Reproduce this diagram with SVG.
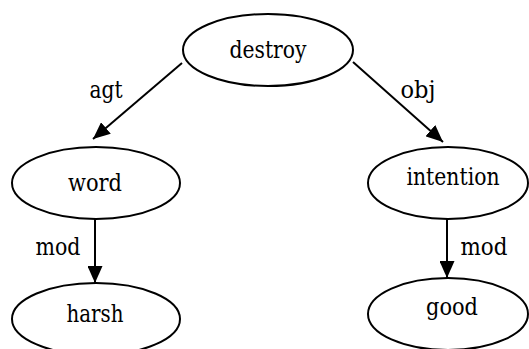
<svg xmlns="http://www.w3.org/2000/svg" width="529" height="349" viewBox="0 0 529 349">
<style>
.node ellipse{fill:#fff;stroke:#000;stroke-width:2}
.edge line{stroke:#000;stroke-width:2}
text{font-family:'DejaVu Serif',serif;font-size:25px;text-anchor:middle;fill:#000}
</style>
<defs>
<marker id="ah" markerWidth="17" markerHeight="15" refX="17" refY="7.5" orient="auto" markerUnits="userSpaceOnUse">
<path d="M0,0 L17,7.5 L0,15 z" fill="#000"/>
</marker>
</defs>
<rect width="529" height="349" fill="#fff"/>
<g id="connectors" class="edge">
<line x1="182" y1="63" x2="93" y2="139" marker-end="url(#ah)"/>
<line x1="353" y1="62" x2="443" y2="142" marker-end="url(#ah)"/>
<line x1="95" y1="219" x2="95" y2="283" marker-end="url(#ah)"/>
<line x1="447" y1="219" x2="447" y2="278" marker-end="url(#ah)"/>
<text x="106" y="98" textLength="33" lengthAdjust="spacingAndGlyphs">agt</text>
<text x="418" y="98" textLength="35" lengthAdjust="spacingAndGlyphs">obj</text>
<text x="58" y="255" textLength="45" lengthAdjust="spacingAndGlyphs">mod</text>
<text x="484" y="255" textLength="47" lengthAdjust="spacingAndGlyphs">mod</text>
</g>
<g id="destroy" class="node"><ellipse cx="268" cy="50" rx="85" ry="36"/><text x="268" y="58" textLength="77" lengthAdjust="spacingAndGlyphs">destroy</text></g>
<g id="word" class="node"><ellipse cx="96" cy="183" rx="84" ry="36"/><text x="95" y="191" textLength="54" lengthAdjust="spacingAndGlyphs">word</text></g>
<g id="intention" class="node"><ellipse cx="448" cy="183" rx="80" ry="36"/><text x="453" y="185" textLength="93" lengthAdjust="spacingAndGlyphs">intention</text></g>
<g id="harsh" class="node"><ellipse cx="96" cy="319" rx="84" ry="36"/><text x="95" y="322" textLength="57" lengthAdjust="spacingAndGlyphs">harsh</text></g>
<g id="good" class="node"><ellipse cx="448" cy="314" rx="80" ry="36"/><text x="452" y="315" textLength="52" lengthAdjust="spacingAndGlyphs">good</text></g>
</svg>
